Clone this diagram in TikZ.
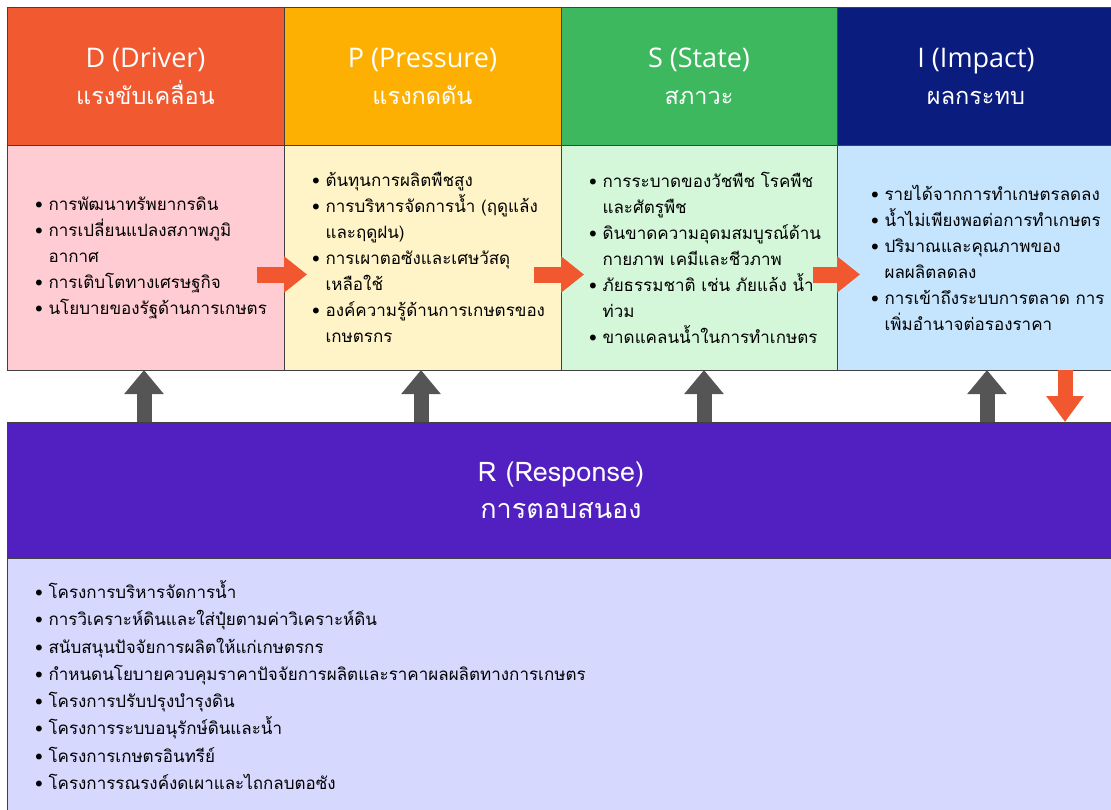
\documentclass[tikz,border=0pt]{standalone}
\usepackage{fontspec}
\setmainfont{Open Sans}
\newfontfamily\thaifont[Script=Thai]{Loma}
\usetikzlibrary{positioning,arrows.meta,calc}
\definecolor{dhead}{HTML}{F15A31}
\definecolor{phead}{HTML}{FDB002}
\definecolor{shead}{HTML}{3DB85E}
\definecolor{ihead}{HTML}{0B1C7F}
\definecolor{rhead}{HTML}{521FC1}
\definecolor{dbody}{HTML}{FFCCD3}
\definecolor{pbody}{HTML}{FFF4C7}
\definecolor{sbody}{HTML}{D4F7DA}
\definecolor{ibody}{HTML}{C5E4FD}
\definecolor{rbody}{HTML}{D6D8FE}
\definecolor{arrred}{HTML}{F1582F}
\definecolor{arrgray}{HTML}{555555}
\newcommand{\bl}[1]{\mbox{\textbullet\ #1}}
\newcommand{\ind}[1]{\mbox{\hphantom{\textbullet\ }#1}}
\newcommand{\thaihead}[1]{{\thaifont\fontsize{23.5}{37}\selectfont #1}}
\tikzset{
  head/.style={draw=black!75,line width=0.8pt,minimum width=277pt,minimum height=138pt,
    inner sep=0pt,outer sep=0pt,align=center,text=white,font=\fontsize{27}{37}\selectfont},
  body/.style={draw=black!75,line width=0.8pt,minimum height=225pt,text width=221pt,
    inner xsep=28pt,inner ysep=0pt,outer sep=0pt,align=left,
    font=\thaifont\fontsize{17}{26}\selectfont},
  redarrow/.style={arrred,line width=16pt,-{Triangle[length=23pt,width=35pt]}},
  grayarrow/.style={arrgray,line width=15pt,-{Triangle[length=24pt,width=38pt]}}
}
\begin{document}
\begin{tikzpicture}[x=1pt,y=-1pt]
\useasboundingbox (0,0) rectangle (1111,809);
\node[head,fill=dhead] (dh) at (145.5,76) {D (Driver)\\\thaihead{แรงขับเคลื่อน}};
\node[head,fill=phead,right=0pt of dh] (ph) {P (Pressure)\\\thaihead{แรงกดดัน}};
\node[head,fill=shead,right=0pt of ph,minimum width=276pt] (sh) {S (State)\\\thaihead{สภาวะ}};
\node[head,fill=ihead,right=0pt of sh,minimum width=278pt] (ih) {I (Impact)\\\thaihead{ผลกระทบ}};
\node[body,fill=dbody,below=0pt of dh] (db) {\bl{การพัฒนาทรัพยากรดิน}\\
  \bl{การเปลี่ยนแปลงสภาพภูมิ}\\ \ind{อากาศ}\\
  \bl{การเติบโตทางเศรษฐกิจ}\\
  \bl{นโยบายของรัฐด้านการเกษตร}};
\node[body,fill=pbody,below=0pt of ph] (pb) {\bl{ต้นทุนการผลิตพืชสูง}\\
  \bl{การบริหารจัดการน้ำ (ฤดูแล้ง}\\ \ind{และฤดูฝน)}\\
  \bl{การเผาตอซังและเศษวัสดุ}\\ \ind{เหลือใช้}\\
  \bl{องค์ความรู้ด้านการเกษตรของ}\\ \ind{เกษตรกร}};
\node[body,fill=sbody,below=0pt of sh,text width=220pt,inner xsep=28pt] (sb) {\bl{การระบาดของวัชพืช โรคพืช}\\ \ind{และศัตรูพืช}\\
  \bl{ดินขาดความอุดมสมบูรณ์ด้าน}\\ \ind{กายภาพ เคมีและชีวภาพ}\\
  \bl{ภัยธรรมชาติ เช่น ภัยแล้ง น้ำ}\\ \ind{ท่วม}\\
  \bl{ขาดแคลนน้ำในการทำเกษตร}};
\node[body,fill=ibody,below=0pt of ih,text width=210pt,inner xsep=34pt] (ib) {\bl{รายได้จากการทำเกษตรลดลง}\\
  \bl{น้ำไม่เพียงพอต่อการทำเกษตร}\\
  \bl{ปริมาณและคุณภาพของ}\\ \ind{ผลผลิตลดลง}\\
  \bl{การเข้าถึงระบบการตลาด การ}\\ \ind{เพิ่มอำนาจต่อรองราคา}};
\node[head,fill=rhead,minimum width=1108pt,minimum height=136pt,anchor=north west,
  font=\thaifont\fontsize{27}{37}\selectfont] (rh) at (7,422)
  {R (Response)\\การตอบสนอง};
\node[body,fill=rbody,below=0pt of rh,minimum height=254pt,text width=1052pt,
  font=\thaifont\fontsize{17}{27.3}\selectfont] (rb) {\bl{โครงการบริหารจัดการน้ำ}\\
  \bl{การวิเคราะห์ดินและใส่ปุ๋ยตามค่าวิเคราะห์ดิน}\\
  \bl{สนับสนุนปัจจัยการผลิตให้แก่เกษตรกร}\\
  \bl{กำหนดนโยบายควบคุมราคาปัจจัยการผลิตและราคาผลผลิตทางการเกษตร}\\
  \bl{โครงการปรับปรุงบำรุงดิน}\\
  \bl{โครงการระบบอนุรักษ์ดินและน้ำ}\\
  \bl{โครงการเกษตรอินทรีย์}\\
  \bl{โครงการรณรงค์งดเผาและไถกลบตอซัง}};
\draw[redarrow] ($(db.east)+(-27,17)$) -- ($(db.east)+(23,17)$);
\draw[redarrow] ($(pb.east)+(-27,17)$) -- ($(pb.east)+(23,17)$);
\draw[redarrow] ($(sb.east)+(-24,17)$) -- ($(sb.east)+(23,17)$);
\draw[grayarrow] (rh.north -| 144,0) -- (db.south -| 144,0);
\draw[grayarrow] (rh.north -| 421,0) -- (pb.south -| 421,0);
\draw[grayarrow] (rh.north -| 704,0) -- (sb.south -| 704,0);
\draw[grayarrow] (rh.north -| 987,0) -- (ib.south -| 987,0);
\draw[redarrow,line width=15pt,-{Triangle[length=26pt,width=36pt]}] (ib.south -| 1065,0) -- (rh.north -| 1065,0);
\end{tikzpicture}
\end{document}
